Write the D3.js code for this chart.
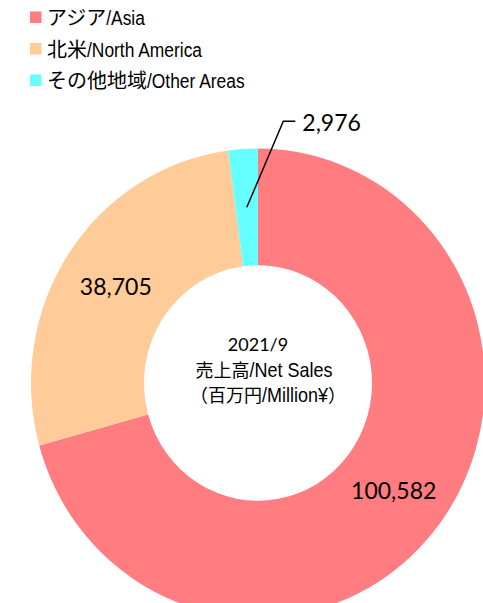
<!DOCTYPE html>
<html><head><meta charset="utf-8">
<script src="https://cdn.jsdelivr.net/npm/d3@7"></script>
<style>html,body{margin:0;padding:0;background:#fff;}svg{display:block;}</style>
</head><body>
<svg id="c" width="483" height="603"></svg>
<script>
const categories = ["アジア/Asia", "北米/North America", "その他地域/Other Areas"];
const values = [100582, 38705, 2976];
const colors = ["#FF7C80", "#FFCC99", "#66FFFF"];
const centerLines = ["2021/9", "売上高/Net Sales", "（百万円/Million¥）"];

const svg = d3.select("#c");
const W = 483, H = 603;
const cx = 258, cy = 383, rOuter = 227, rInner = 114, sy = 1.033;

const CJK = /[\u3000-\u30ff\u4e00-\u9fff\uff00-\uffef]/;
function runs(str){
  const out = []; let cur = null;
  for (const ch of str){
    const isC = CJK.test(ch);
    if (!cur || cur.cjk !== isC){ cur = {cjk:isC, t:""}; out.push(cur); }
    cur.t += ch;
  }
  return out;
}
function mixed(parent, str, x, y, opt){
  const g = parent.append("g");
  let pos = 0;
  runs(str).forEach(r => {
    const fam = r.cjk ? opt.cjkFont : opt.latFont;
    const size = r.cjk ? opt.cjkSize : opt.latSize;
    const sx = r.cjk ? 1 : opt.sx;
    const t = g.append("text").text(r.t)
      .attr("font-family", fam).attr("font-size", size).attr("fill", "#000")
      .attr("transform", `translate(${pos},0) scale(${sx},1)`);
    pos += t.node().getComputedTextLength() * sx;
  });
  const off = opt.anchor === "middle" ? -pos/2 : 0;
  g.attr("transform", `translate(${x+off},${y})`);
  return g;
}

// Legend
const legendY = d3.scaleLinear().domain([0, 1]).range([17.5, 49]);
categories.forEach((c, i) => {
  const yc = legendY(i);
  svg.append("rect").attr("x", 30).attr("y", yc - 6).attr("width", 11.5).attr("height", 11.5).attr("fill", colors[i]);
  mixed(svg, c, 47, yc + 7.5, {cjkFont:"'Noto Sans CJK JP'", cjkSize:20, latFont:"'Liberation Sans', Arial, sans-serif", latSize:20, sx:0.87});
});

// Donut
const pie = d3.pie().sort(null).value(d => d).startAngle(0).endAngle(2*Math.PI);
const arcs = pie(values);
const arc = d3.arc().innerRadius(rInner).outerRadius(rOuter);
const g = svg.append("g").attr("transform", `translate(${cx},${cy}) scale(1,${sy})`);
g.selectAll("path").data(arcs).enter().append("path")
  .attr("d", arc).attr("fill", (d, i) => colors[i]);

const fmt = d3.format(",");
const labelFont = "Lato, 'Open Sans', sans-serif";
arcs.forEach((a, i) => {
  const [px, py] = arc.centroid(a);
  const X = cx + px, Y = cy + py * sy;
  if (i < 2){
    svg.append("text").attr("x", X).attr("y", Y).attr("text-anchor", "middle")
      .attr("dominant-baseline", "central").attr("font-family", labelFont)
      .attr("font-size", 23).attr("fill", "#000").text(fmt(values[i]));
  } else {
    const ex = X + 36.5, ey = Y - 86;
    svg.append("polyline").attr("points", `${X},${Y} ${ex},${ey} ${ex+12},${ey}`)
      .attr("fill", "none").attr("stroke", "#000").attr("stroke-width", 1.5);
    svg.append("text").attr("x", ex + 19).attr("y", ey + 1).attr("dominant-baseline", "central")
      .attr("font-family", labelFont).attr("font-size", 23).attr("fill", "#000").text(fmt(values[i]));
  }
});

// Center text
svg.append("text").attr("x", cx).attr("y", 351).attr("text-anchor", "middle")
  .attr("font-family", labelFont).attr("font-size", 18).attr("fill", "#000").text(centerLines[0]);
mixed(svg, centerLines[1], cx + 6, 377, {cjkFont:"'Noto Sans CJK JP'", cjkSize:18, latFont:"'Liberation Sans', Arial, sans-serif", latSize:20, sx:0.9, anchor:"middle"});
mixed(svg, centerLines[2], cx + 10, 402, {cjkFont:"'Noto Sans CJK JP'", cjkSize:18, latFont:"'Liberation Sans', Arial, sans-serif", latSize:20, sx:0.9, anchor:"middle"});
</script>
</body></html>
